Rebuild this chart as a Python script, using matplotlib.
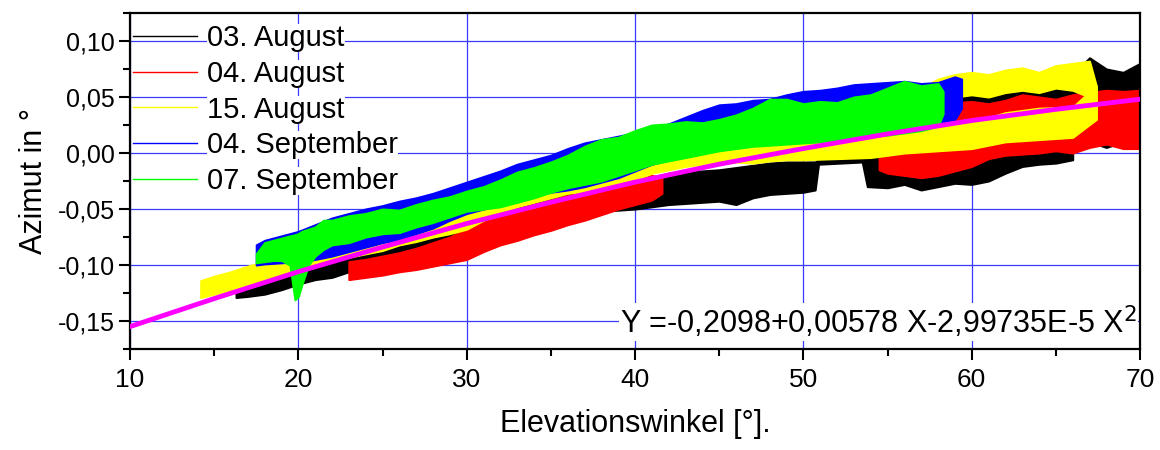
import matplotlib
matplotlib.use('Agg')
import matplotlib.pyplot as plt
from matplotlib.lines import Line2D
from matplotlib.ticker import MultipleLocator, FuncFormatter

# 03. August - lower branch
bk1_x = [16.3, 17, 18, 19, 20, 21, 22, 23, 24, 25, 26, 27, 28, 29, 30, 31, 32, 33, 34, 35, 36, 37, 38, 39, 40,
         41, 42, 43, 44, 45, 46, 47, 48, 49, 50, 50.7, 50.9, 53.5, 53.8, 55, 56, 57, 58, 59, 60, 61, 62, 63, 64, 65, 66]
bk1_lo = [-0.129, -0.128, -0.126, -0.122, -0.117, -0.113, -0.111, -0.106, -0.101, -0.097, -0.092, -0.090, -0.087,
          -0.082, -0.079, -0.074, -0.069, -0.064, -0.061, -0.057, -0.055, -0.053, -0.052, -0.051, -0.050, -0.048,
          -0.046, -0.045, -0.044, -0.043, -0.046, -0.040, -0.037, -0.036, -0.035, -0.033, -0.010, -0.008, -0.030,
          -0.031, -0.028, -0.033, -0.030, -0.027, -0.028, -0.025, -0.018, -0.012, -0.010, -0.009, -0.006]
bk1_hi = [-0.117, -0.116, -0.112, -0.108, -0.102, -0.099, -0.094, -0.091, -0.087, -0.084, -0.080, -0.075, -0.071,
          -0.066, -0.061, -0.056, -0.048, -0.043, -0.040, -0.036, -0.034, -0.031, -0.030, -0.029, -0.027, -0.022,
          -0.018, -0.017, -0.016, -0.015, -0.013, -0.011, -0.009, -0.008, -0.008, -0.008, -0.006, -0.005, 0.000,
          0.001, 0.000, 0.003, 0.002, 0.004, 0.006, 0.010, 0.013, 0.015, 0.016, 0.018, 0.022]
# 03. August - upper branch
bk2_x = [44, 46, 48, 50, 52, 54, 56, 58, 59, 60, 61, 62, 63, 64, 65, 66, 67, 68, 69, 70]
bk2_lo = [0.004, 0.012, 0.020, 0.026, 0.030, 0.032, 0.034, 0.040, 0.044, 0.046, 0.045, 0.044, 0.045, 0.046,
          0.040, 0.020, 0.010, 0.005, 0.010, 0.015]
bk2_hi = [0.018, 0.026, 0.034, 0.040, 0.044, 0.046, 0.048, 0.056, 0.064, 0.066, 0.060, 0.058, 0.060, 0.062,
          0.062, 0.070, 0.085, 0.075, 0.072, 0.080]

# 04. August
rd1_x = [23, 24, 25, 26, 27, 28, 29, 30, 31, 32, 33, 34, 35, 36, 37, 38, 39, 40, 41, 41.6]
rd1_lo = [-0.113, -0.111, -0.109, -0.106, -0.104, -0.101, -0.098, -0.095, -0.088, -0.082, -0.078, -0.073,
          -0.069, -0.064, -0.060, -0.055, -0.050, -0.046, -0.042, -0.036]
rd1_hi = [-0.097, -0.095, -0.092, -0.089, -0.085, -0.080, -0.075, -0.068, -0.061, -0.054, -0.051, -0.046,
          -0.042, -0.038, -0.034, -0.030, -0.026, -0.023, -0.020, -0.022]
rd2_x = [54.5, 55, 56, 57, 58, 59, 60, 61, 62, 63, 64, 65, 66, 67, 68, 69, 70]
rd2_lo = [-0.015, -0.018, -0.020, -0.022, -0.020, -0.016, -0.012, -0.005, -0.002, -0.001, 0.000, 0.002,
          0.000, 0.005, 0.008, 0.004, 0.004]
rd2_hi = [0.012, 0.016, 0.020, 0.028, 0.040, 0.045, 0.046, 0.044, 0.047, 0.052, 0.050, 0.048, 0.052, 0.054,
          0.056, 0.055, 0.056]

# 15. August
ye1_x = [14.2, 15, 16, 17, 18, 19, 20, 21, 22, 23, 24, 25, 26, 27, 28, 29, 30, 31, 32, 33, 34, 35, 36, 37, 38,
         39, 40, 41, 42, 43, 44, 45, 46, 47, 48, 49, 50, 52, 54, 56, 58, 60, 62, 64, 66, 67.4]
ye1_lo = [-0.129, -0.126, -0.122, -0.118, -0.113, -0.108, -0.103, -0.099, -0.096, -0.093, -0.090, -0.087,
          -0.082, -0.079, -0.075, -0.072, -0.068, -0.060, -0.054, -0.048, -0.044, -0.040, -0.036, -0.034,
          -0.032, -0.030, -0.024, -0.018, -0.015, -0.012, -0.010, -0.009, -0.008, -0.009, -0.007, -0.006,
          -0.006, -0.005, -0.004, 0.000, 0.002, 0.004, 0.010, 0.012, 0.014, 0.030]
ye1_hi = [-0.114, -0.110, -0.106, -0.101, -0.097, -0.093, -0.089, -0.087, -0.084, -0.079, -0.073, -0.069,
          -0.066, -0.061, -0.057, -0.052, -0.046, -0.041, -0.036, -0.030, -0.027, -0.024, -0.021, -0.016,
          -0.010, -0.004, 0.002, 0.008, 0.012, 0.014, 0.012, 0.016, 0.018, 0.016, 0.018, 0.015, 0.018, 0.016,
          0.018, 0.022, 0.026, 0.027, 0.036, 0.040, 0.041, 0.060]
ye2_x = [44, 46, 48, 50, 52, 54, 56, 57, 58, 59, 60, 61, 62, 63, 64, 65, 66, 67, 67.4]
ye2_lo = [0.004, 0.012, 0.020, 0.024, 0.028, 0.030, 0.036, 0.040, 0.046, 0.050, 0.052, 0.050, 0.054, 0.056,
          0.054, 0.058, 0.056, 0.050, 0.030]
ye2_hi = [0.016, 0.024, 0.034, 0.040, 0.042, 0.046, 0.052, 0.058, 0.066, 0.070, 0.072, 0.070, 0.074, 0.076,
          0.072, 0.078, 0.080, 0.082, 0.060]

# 04. September
bl_x = [17.5, 18, 19, 20, 21, 22, 23, 24, 25, 26, 27, 28, 29, 30, 31, 32, 33, 34, 35, 36, 37, 38, 39, 40, 41,
        42, 43, 44, 45, 46, 47, 48, 49, 50, 51, 52, 53, 54, 55, 56, 57, 58, 59, 59.4]
bl_lo = [-0.100, -0.099, -0.098, -0.097, -0.095, -0.092, -0.088, -0.084, -0.080, -0.077, -0.072, -0.067,
         -0.060, -0.054, -0.050, -0.046, -0.042, -0.038, -0.035, -0.033, -0.030, -0.026, -0.022, -0.016,
         -0.010, -0.006, 0.000, 0.004, 0.008, 0.010, 0.012, 0.012, 0.010, 0.010, 0.011, 0.013, 0.014, 0.015,
         0.018, 0.020, 0.024, 0.027, 0.030, 0.040]
bl_hi = [-0.082, -0.078, -0.074, -0.070, -0.064, -0.058, -0.054, -0.050, -0.047, -0.043, -0.040, -0.036,
         -0.031, -0.026, -0.021, -0.016, -0.010, -0.006, -0.002, 0.004, 0.009, 0.012, 0.015, 0.018, 0.022,
         0.026, 0.032, 0.038, 0.043, 0.044, 0.047, 0.048, 0.052, 0.055, 0.056, 0.058, 0.061, 0.062, 0.063,
         0.064, 0.062, 0.063, 0.068, 0.066]

# 07. September
gr_x = [17.5, 18, 18.5, 19, 19.5, 19.8, 20.0, 20.2, 20.6, 21, 21.5, 22, 23, 24, 25, 26, 27, 28, 29, 30, 31, 32,
        33, 34, 35, 36, 37, 38, 39, 40, 41, 42, 43, 44, 45, 46, 47, 48, 49, 50, 51, 52, 53, 54, 55, 56, 57, 58, 58.3]
gr_lo = [-0.098, -0.097, -0.096, -0.096, -0.100, -0.131, -0.128, -0.118, -0.100, -0.092, -0.086, -0.082,
         -0.080, -0.075, -0.072, -0.071, -0.066, -0.062, -0.057, -0.052, -0.050, -0.048, -0.044, -0.040,
         -0.035, -0.031, -0.028, -0.025, -0.020, -0.015, -0.010, -0.007, -0.004, -0.001, 0.002, 0.004, 0.006,
         0.007, 0.008, 0.009, 0.010, 0.012, 0.013, 0.015, 0.016, 0.018, 0.020, 0.024, 0.035]
gr_hi = [-0.090, -0.080, -0.078, -0.076, -0.074, -0.073, -0.072, -0.070, -0.068, -0.066, -0.060, -0.060,
         -0.056, -0.054, -0.050, -0.051, -0.046, -0.042, -0.039, -0.034, -0.030, -0.024, -0.017, -0.013,
         -0.008, -0.002, 0.006, 0.012, 0.014, 0.020, 0.025, 0.026, 0.028, 0.027, 0.030, 0.034, 0.040, 0.048,
         0.048, 0.044, 0.046, 0.045, 0.050, 0.052, 0.058, 0.064, 0.060, 0.062, 0.055]

# polynomial fit curve
fit_x = [10, 15, 20, 25, 30, 35, 40, 45, 50, 55, 60, 65, 70]
fit_y = [-0.155, -0.130, -0.106, -0.084, -0.063, -0.044, -0.026, -0.010, 0.004, 0.017, 0.029, 0.039, 0.048]

labels = ['03. August', '04. August', '15. August', '04. September', '07. September']
colors = ['#000000', '#ff0000', '#ffff00', '#0000ff', '#00ff00']

plt.rcParams['font.family'] = ['Liberation Sans', 'DejaVu Sans']

fig = plt.figure(figsize=(11.6, 4.5), dpi=100)
ax = fig.add_axes([130 / 1160, 1 - 349 / 450, 1010 / 1160, 336 / 450])

bands = [
    [(bk1_x, bk1_lo, bk1_hi), (bk2_x, bk2_lo, bk2_hi)],
    [(rd1_x, rd1_lo, rd1_hi), (rd2_x, rd2_lo, rd2_hi)],
    [(ye1_x, ye1_lo, ye1_hi), (ye2_x, ye2_lo, ye2_hi)],
    [(bl_x, bl_lo, bl_hi)],
    [(gr_x, gr_lo, gr_hi)],
]
for parts, c in zip(bands, colors):
    for x, lo, hi in parts:
        ax.fill_between(x, lo, hi, facecolor=c, edgecolor=c, lw=1.5, zorder=2)

ax.plot(fit_x, fit_y, color='#ff00ff', lw=3.5, zorder=3)

ax.set_xlim(10, 70)
ax.set_ylim(-0.175, 0.125)
ax.xaxis.set_major_locator(MultipleLocator(10))
ax.xaxis.set_minor_locator(MultipleLocator(5))
ax.yaxis.set_major_locator(MultipleLocator(0.05))
ax.yaxis.set_minor_locator(MultipleLocator(0.025))


def comma(v, pos):
    if abs(v) < 1e-9:
        v = 0.0
    return f'{v:.2f}'.replace('.', ',')


ax.yaxis.set_major_formatter(FuncFormatter(comma))
ax.grid(True, which='major', color='#3a3aff', lw=0.9, zorder=1)
ax.set_axisbelow(True)
for s in ax.spines.values():
    s.set_linewidth(1.6)
ax.tick_params(which='both', direction='out', width=1.5, top=False, right=False)
ax.tick_params(which='major', length=8)
ax.tick_params(which='minor', length=5)
ax.tick_params(axis='y', labelsize=18, pad=3)
ax.tick_params(axis='x', labelsize=19, pad=6)

ax.set_ylabel('Azimut in °', fontsize=22, labelpad=6)
ax.set_xlabel('Elevationswinkel [°].', fontsize=22, labelpad=12)

handles = [Line2D([], [], color=c, lw=1) for c in colors]
leg = ax.legend(handles, labels, loc='upper left', bbox_to_anchor=(0.003, 0.966), frameon=False,
                fontsize=21, handlelength=2.2, handletextpad=0.35, labelspacing=0.26, borderaxespad=0,
                borderpad=0)
for t in leg.get_texts():
    t.set_bbox(dict(facecolor='white', edgecolor='none', pad=0))

ax.text(0.997, 0.08, 'Y =-0,2098+0,00578 X-2,99735E-5 X$^2$', transform=ax.transAxes, ha='right',
        va='center', fontsize=22, zorder=5,
        bbox=dict(facecolor='white', edgecolor='none', pad=0.5))

fig.savefig('out.png', dpi=100)
